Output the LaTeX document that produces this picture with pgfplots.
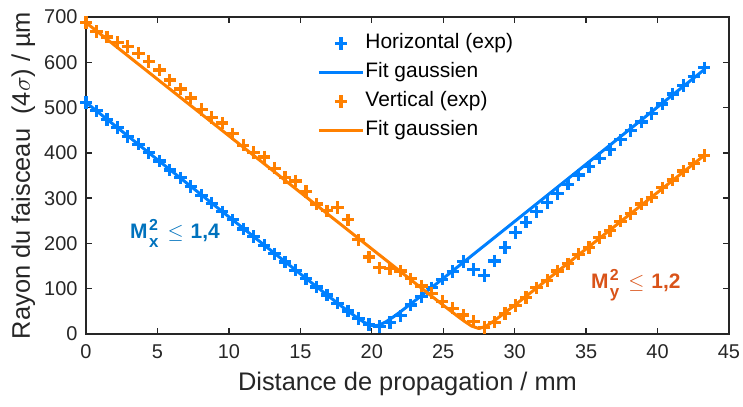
\documentclass[border=0pt]{standalone}
\usepackage{pgfplots}
\pgfplotsset{compat=1.18}
\usepackage{pgfplotstable}
\usepackage{fontspec}
\setmainfont{Liberation Sans}
\definecolor{hblue}{RGB}{0,128,255}
\definecolor{vorange}{RGB}{255,128,0}
\definecolor{mxblue}{RGB}{0,114,189}
\definecolor{myorange}{RGB}{217,83,25}
\definecolor{axgray}{RGB}{38,38,38}
\newcommand{\msq}[1]{M\hspace{1.5bp}\makebox[0pt][l]{\raisebox{8bp}{\fontsize{16}{17}\selectfont 2}}\raisebox{-9bp}{\fontsize{17}{18}\selectfont #1}}

\pgfplotstableread{
z h v
0 511 688
0.73 493 668
1.47 474 656
2.2 456 644
2.93 436 635
3.67 419 620
4.4 400 602
5.13 382 583
5.87 362 561
6.6 345 541
7.33 326 521
8.07 306 496
8.8 289 478
9.53 270 466
10.27 252 442
11.0 232 417
11.73 215 401
12.47 196 391
13.2 177 366
13.93 159 346
14.67 141 338
15.4 122 315
16.13 104 287
16.87 86 272
17.6 68 279
18.33 51 252
19.07 34 208
19.8 21 170
20.53 17 146
21.27 25 144
22.0 40 139
22.73 64 122
23.47 82 106
24.2 102 90
24.93 121 72
25.67 138 57
26.4 160 42
27.13 142 28
27.87 129 14
28.6 161 26
29.33 191 45
30.07 224 63
30.8 247 81
31.53 270 102
32.27 290 118
33.0 310 139
33.73 331 155
34.47 351 176
35.2 369 191
35.93 388 213
36.67 407 228
37.4 429 249
38.13 449 266
38.87 468 287
39.6 487 302
40.33 508 323
41.07 530 340
41.8 549 360
42.53 568 376
43.27 588 394
}\expdata

\begin{document}
\begin{tikzpicture}
\path[use as bounding box] (-86bp,-73bp) rectangle (657bp,334bp);
\begin{axis}[
  at={(0,0)}, anchor=south west,
  scale only axis, width=643bp, height=317bp,
  xmin=0, xmax=45, ymin=0, ymax=700,
  xtick={0,5,...,45}, ytick={0,100,...,700},
  tick align=inside, major tick length=6bp,
  axis line style={line width=2.2bp, draw=axgray},
  every tick/.style={line width=1.4bp, draw=axgray},
  tick label style={font=\fontsize{20}{22}\selectfont, text=axgray},
  xticklabel style={yshift=-7bp},
  yticklabel style={xshift=-5bp},
  /pgf/number format/assume math mode=true,
  xlabel={Distance de propagation / mm},
  ylabel={Rayon du faisceau \ (4$\sigma$) / µm},
  label style={font=\fontsize{25.5}{28}\selectfont, text=axgray},
  xlabel style={at={(axis description cs:0.5,-0.156)}, anchor=center},
  ylabel style={at={(axis description cs:-0.0975,0.5)}, anchor=center},
  legend image code/.code={\draw[mark repeat=2,mark phase=2,#1] plot coordinates {(0bp,0bp) (22bp,0bp) (44bp,0bp)};},
  legend style={at={(axis description cs:0.355,0.96)}, anchor=north west, draw=none, fill=none,
    font=\fontsize{21}{24}\selectfont, row sep=6bp,
    nodes={inner sep=1bp, text height=16bp, text depth=5bp}},
  legend cell align=left,
]
\addplot[only marks, mark=+, mark size=6.2bp, mark options={line width=3.2bp, hblue}] table[x=z, y=h] {\expdata};
\addlegendentry{Horizontal (exp)}
\addplot[hblue, line width=3bp, line join=round] coordinates {
(0,511.4) (5,385.0) (10,258.7) (15,132.8) (17,82.9) (18,58.5) (19,35.3) (19.5,25.2) (20,18.7) (20.2,18) (20.5,19.5) (21,27.1) (21.5,37.5) (22,49.0) (23,73.1) (25,122.8) (30,248.6) (35,374.9) (40,501.3) (43.3,584.7)};
\addlegendentry{Fit gaussien}
\addplot[only marks, mark=+, mark size=6.2bp, mark options={line width=3.2bp, vorange}] table[x=z, y=v] {\expdata};
\addlegendentry{Vertical (exp)}
\addplot[vorange, line width=3bp, line join=round] coordinates {
(0,687.6) (5,562.6) (10,437.7) (15,312.7) (20,187.9) (24,88.3) (25,63.6) (26,39.4) (26.5,27.7) (27,17.3) (27.5,12) (28,17.3) (28.5,27.7) (29,39.4) (30,63.6) (31,88.3) (35,187.9) (40,312.7) (43.3,395.2)};
\addlegendentry{Fit gaussien}
\node[anchor=base west, text=mxblue, font=\bfseries\fontsize{21}{24}\selectfont] at (axis cs:2.85,211) {\msq{x}\hspace{9bp}$\leq$\hspace{7bp}1,4};
\node[anchor=base west, text=myorange, font=\bfseries\fontsize{21}{24}\selectfont] at (axis cs:35.1,100) {\msq{y}\hspace{9bp}$\leq$\hspace{7bp}1,2};
\end{axis}
\end{tikzpicture}
\end{document}
